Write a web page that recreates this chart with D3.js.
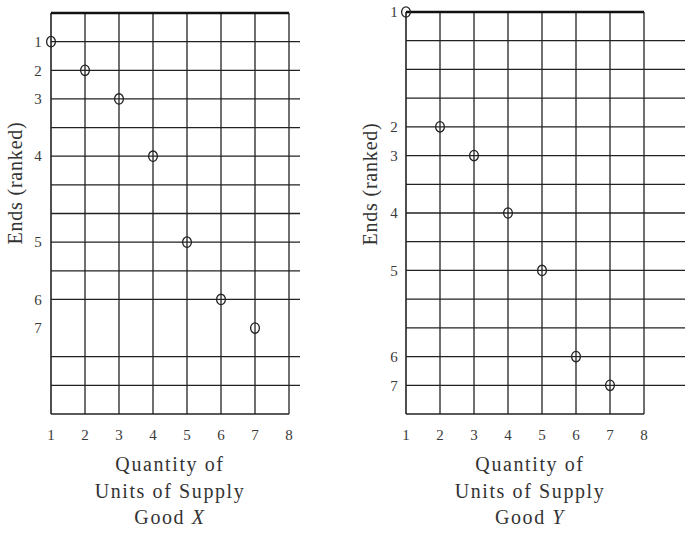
<!DOCTYPE html>
<html><head><meta charset="utf-8">
<script src="https://cdn.jsdelivr.net/npm/d3@7"></script>
<style>body{margin:0;background:#fff;} svg{display:block;}</style>
</head><body>
<svg id="c" width="685" height="534"></svg>
<script>
// Data
const quantity = [1, 2, 3, 4, 5, 6, 7];
const rankLabels = ["1", "2", "3", "4", "5", "6", "7"];
const xTicks = [1, 2, 3, 4, 5, 6, 7, 8];
// grid row (0 = top of frame, 14 = bottom) at which each ranked end sits
const rowsGoodX = [1, 2, 3, 5, 8, 10, 11];
const rowsGoodY = [0, 4, 5, 7, 9, 12, 13];
// horizontal grid rows drawn
const gridRowsX = [1, 2, 3, 4, 5, 6, 7, 8, 9, 10, 12, 13];
const gridRowsY = [1, 2, 3, 4, 5, 6, 7, 8, 9, 10, 11, 12, 13];
const titles = [["Quantity of", "Units of Supply", "Good "], ["Quantity of", "Units of Supply", "Good "]];
const goodLetters = ["X", "Y"];
const yTitle = "Ends (ranked)";

const svg = d3.select("#c");
const ink = "#222";
const font = "'Liberation Serif','DejaVu Serif',serif";

const panels = [
  {x0: 51, x1: 289, y0: 13, y1: 414, ext: 300, rows: rowsGoodX, grid: gridRowsX, letter: goodLetters[0], title: titles[0], tcx: 170, yTitleY: 183, yTitleX: 15, yLabX: 38},
  {x0: 406, x1: 644, y0: 12, y1: 414, ext: 685, rows: rowsGoodY, grid: gridRowsY, letter: goodLetters[1], title: titles[1], tcx: 530, yTitleY: 184, yTitleX: 370, yLabX: 394}
];

panels.forEach(p => {
  const g = svg.append("g");
  const x = d3.scaleLinear().domain([1, 8]).range([p.x0, p.x1]);
  const y = d3.scaleLinear().domain([0, 14]).range([p.y0, p.y1]);

  // vertical grid lines
  g.selectAll("line.v").data(xTicks).enter().append("line")
    .attr("x1", d => x(d)).attr("x2", d => x(d))
    .attr("y1", p.y0).attr("y2", p.y1)
    .attr("stroke", ink).attr("stroke-width", d => d === 1 ? 1.6 : 1.3);

  // horizontal grid lines (extend beyond frame)
  g.selectAll("line.h").data(p.grid).enter().append("line")
    .attr("x1", p.x0).attr("x2", p.ext)
    .attr("y1", d => y(d)).attr("y2", d => y(d))
    .attr("stroke", ink).attr("stroke-width", 1.3);

  // bottom line
  g.append("line").attr("x1", p.x0).attr("x2", p.x1).attr("y1", y(14)).attr("y2", y(14))
    .attr("stroke", ink).attr("stroke-width", 1.4);
  // top thick line
  g.append("line").attr("x1", p.x0).attr("x2", p.x1).attr("y1", y(0)).attr("y2", y(0))
    .attr("stroke", "#111").attr("stroke-width", 2.6);

  // points
  g.selectAll("ellipse.pt").data(quantity).enter().append("ellipse")
    .attr("cx", d => x(d)).attr("cy", (d, i) => y(p.rows[i]))
    .attr("rx", 4.4).attr("ry", 5.2)
    .attr("fill", "none").attr("stroke", ink).attr("stroke-width", 1.3);

  // y labels
  g.selectAll("text.yl").data(rankLabels).enter().append("text")
    .attr("x", p.yLabX).attr("y", (d, i) => y(p.rows[i]))
    .attr("dy", "0.35em").attr("text-anchor", "middle")
    .attr("font-family", font).attr("font-size", 15).attr("fill", "#3a3a3a")
    .text(d => d);

  // x labels
  g.selectAll("text.xl").data(xTicks).enter().append("text")
    .attr("x", d => x(d)).attr("y", 440)
    .attr("text-anchor", "middle")
    .attr("font-family", font).attr("font-size", 15).attr("fill", "#3a3a3a")
    .text(d => d);

  // x title
  [471, 498].forEach((yy, i) => {
    g.append("text").attr("x", p.tcx).attr("y", yy).attr("text-anchor", "middle")
      .attr("font-family", font).attr("font-size", 20).attr("letter-spacing", 1.6).attr("fill", "#333")
      .text(p.title[i]);
  });
  const t3 = g.append("text").attr("x", p.tcx).attr("y", 524).attr("text-anchor", "middle")
    .attr("font-family", font).attr("font-size", 20).attr("letter-spacing", 1.6).attr("fill", "#333");
  t3.append("tspan").text(p.title[2]);
  t3.append("tspan").attr("font-style", "italic").text(p.letter);

  // y title
  g.append("text")
    .attr("transform", `translate(${p.yTitleX},${p.yTitleY}) rotate(-90)`)
    .attr("text-anchor", "middle").attr("dy", "0.35em")
    .attr("font-family", font).attr("font-size", 20).attr("letter-spacing", 0.8).attr("fill", "#333")
    .text(yTitle);
});
</script>
</body></html>
